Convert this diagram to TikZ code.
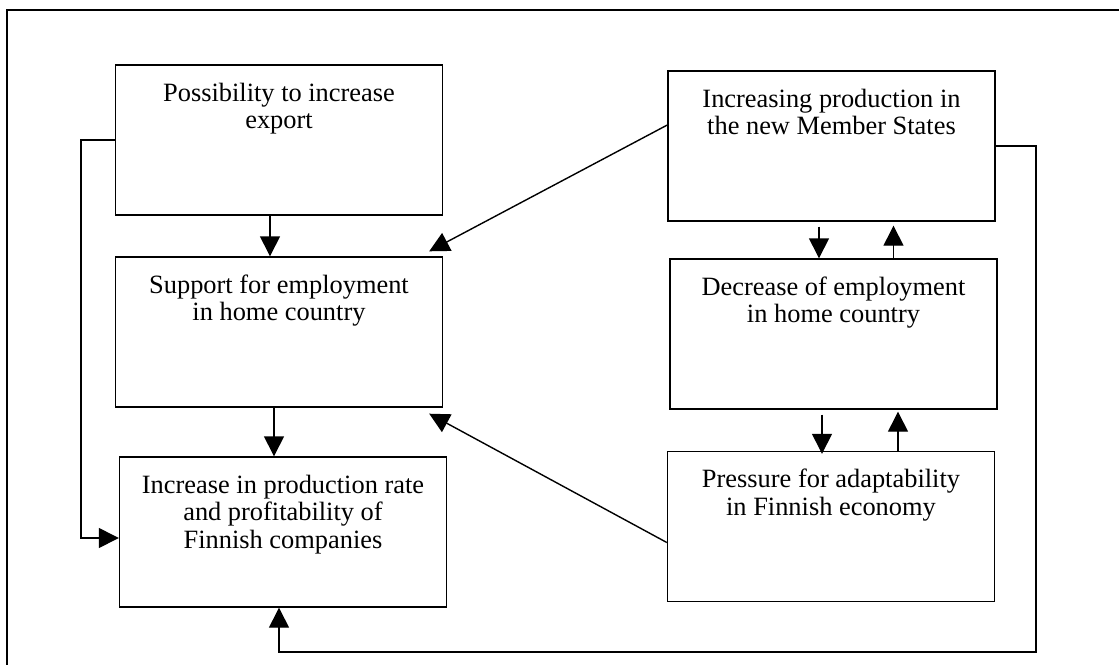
\documentclass[tikz,border=0pt]{standalone}
\usepackage{fontspec}
\setmainfont{Liberation Serif}
\usetikzlibrary{arrows.meta,positioning,calc}

\begin{document}
\begin{tikzpicture}[
    x=0.5pt, y=-0.5pt,
    box/.style={draw, line width=0.7pt, minimum width=163.5pt, minimum height=75pt, inner sep=0pt},
    boxtext/.style={anchor=north, yshift=-9pt, inner sep=0pt, align=center, font=\fontsize{13.2}{13.8}\selectfont},
    arrow/.style={-{Triangle[length=10pt, width=10pt]}, line width=0.7pt},
    frame/.style={line width=0.7pt}
]
    \useasboundingbox (0,0) rectangle (1119,664);
    \draw[frame] (7,680) |- (1130,10);

    % left column
    \node[box, label={[boxtext]north:{Possibility to increase\\export}}] (export) at (279,140) {};
    \node[box, label={[boxtext]north:{Support for employment\\in home country}}] (support) at (279,332) {};
    \node[box, label={[boxtext]north:{Increase in production rate\\and profitability of\\Finnish companies}}] (rate) at (283,532) {};

    % right column
    \node[box, label={[boxtext]north:{Increasing production in\\the new Member States}}] (members) at (831.5,146) {};
    \node[box, label={[boxtext]north:{Decrease of employment\\in home country}}] (decrease) at (833.5,334) {};
    \node[box, label={[boxtext]north:{Pressure for adaptability\\in Finnish economy}}] (pressure) at (831,526.5) {};

    \draw[arrow] ([xshift=-4.5pt]export.south) -- ([xshift=-4.5pt]support.north);
    \draw[arrow] ([xshift=-2.5pt]support.south) -- ([xshift=-4.5pt]rate.north);
    \draw[arrow] (export.west) -- ++(-17pt,0) |- ([yshift=-3pt]rate.west);

    \draw[arrow] ([yshift=10.5pt]members.west) -- ([shift={(-7pt,2.5pt)}]support.north east);
    \draw[arrow] ([yshift=-8pt]pressure.west) -- ([shift={(-7pt,-3pt)}]support.south east);

    \draw[arrow] ([xshift=-6.25pt, yshift=-2.5pt]members.south) -- ([xshift=-7.25pt]decrease.north);
    \draw[arrow] ([xshift=30pt]decrease.north) -- ([xshift=31pt, yshift=-2pt]members.south);
    \draw[arrow] ([xshift=-5.75pt, yshift=-2.5pt]decrease.south) -- ([xshift=-4.5pt, yshift=-1.5pt]pressure.north);
    \draw[arrow] ([xshift=33.5pt]pressure.north) -- ([xshift=32.25pt, yshift=-1pt]decrease.south);

    % feedback loop
    \coordinate (loopcorner) at (1036,652);
    \draw[arrow] (members.east) -| (loopcorner) -| ([xshift=-2pt]rate.south);
\end{tikzpicture}
\end{document}
